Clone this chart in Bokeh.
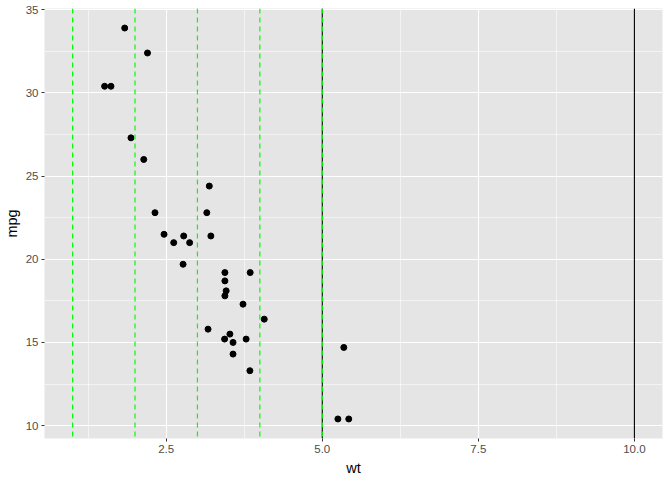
from bokeh.plotting import figure
from bokeh.models import Range1d, FixedTicker, Span
from bokeh.embed import file_html
from bokeh.resources import INLINE

wt = [2.620, 2.875, 2.320, 3.215, 3.440, 3.460, 3.570, 3.190, 3.150, 3.440, 3.440,
      4.070, 3.730, 3.780, 5.250, 5.424, 5.345, 2.200, 1.615, 1.835, 2.465, 3.520,
      3.435, 3.840, 3.845, 1.935, 2.140, 1.513, 3.170, 2.770, 3.570, 2.780]
mpg = [21.0, 21.0, 22.8, 21.4, 18.7, 18.1, 14.3, 24.4, 22.8, 19.2, 17.8, 16.4, 17.3,
       15.2, 10.4, 10.4, 14.7, 32.4, 30.4, 33.9, 21.5, 15.5, 15.2, 13.3, 19.2, 27.3,
       26.0, 30.4, 15.8, 19.7, 15.0, 21.4]
black_lines = [5, 10]
green_lines = [1, 2, 3, 4, 5]
x_ticks = [2.5, 5.0, 7.5, 10.0]
x_minor = [1.25, 3.75, 6.25, 8.75]
y_ticks = [10, 15, 20, 25, 30, 35]
y_minor = [12.5, 17.5, 22.5, 27.5, 32.5]

p = figure(width=672, height=480, output_backend="svg", toolbar_location=None,
           x_range=Range1d(0.55, 10.45), y_range=Range1d(9.225, 35.075),
           min_border_left=44, min_border_right=10, min_border_top=8, min_border_bottom=42,
           background_fill_color="#E5E5E5", border_fill_color="white")
p.outline_line_color = None

p.xaxis.ticker = FixedTicker(ticks=x_ticks, minor_ticks=x_minor)
p.yaxis.ticker = FixedTicker(ticks=y_ticks, minor_ticks=y_minor)
p.xaxis.major_label_overrides = {2.5: "2.5", 5.0: "5.0", 7.5: "7.5", 10.0: "10.0"}
for ax in (p.xaxis[0], p.yaxis[0]):
    ax.axis_line_color = None
    ax.major_tick_line_color = "#333333"
    ax.major_tick_line_width = 1
    ax.major_tick_in = 0
    ax.major_tick_out = 3
    ax.minor_tick_line_color = None
    ax.major_label_text_color = "#4D4D4D"
    ax.major_label_text_font = "Liberation Sans"
    ax.major_label_text_font_size = "11.5px"
    ax.axis_label_text_font = "Liberation Sans"
    ax.axis_label_text_font_size = "14.5px"
    ax.axis_label_text_font_style = "normal"
    ax.axis_label_text_color = "black"
    ax.major_label_standoff = 2
p.xaxis.axis_label = "wt"
p.yaxis.axis_label = "mpg"
p.xaxis.axis_label_standoff = 4
p.yaxis.axis_label_standoff = 3

p.grid.grid_line_color = "white"
p.grid.grid_line_width = 1.1
p.grid.minor_grid_line_color = "white"
p.grid.minor_grid_line_width = 0.55

p.scatter(wt, mpg, size=6, color="black")

for v in black_lines:
    p.add_layout(Span(location=v, dimension="height", line_color="black", line_width=1.1))
for v in green_lines:
    p.add_layout(Span(location=v, dimension="height", line_color="#00FF00",
                      line_width=1.2, line_dash="5 4"))

open("out.html", "w").write(file_html(p, INLINE))
